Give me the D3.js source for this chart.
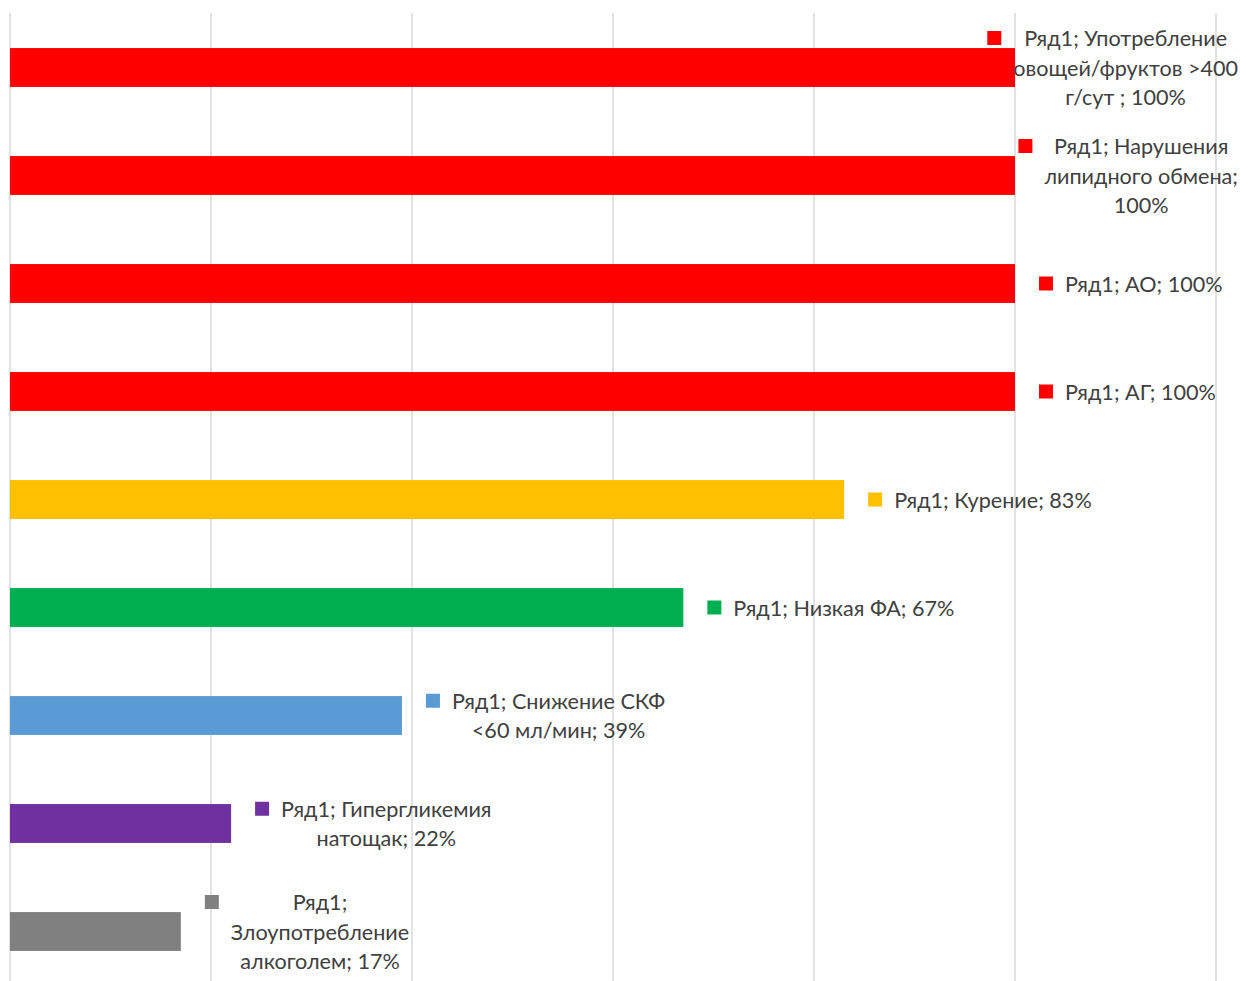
<!DOCTYPE html>
<html>
<head>
<meta charset="utf-8">
<script src="https://cdn.jsdelivr.net/npm/d3@7"></script>
<style>
  html, body { margin: 0; padding: 0; background: #fff; }
  svg { display: block; }
  .lbl { font-family: Lato, "Open Sans", sans-serif; font-size: 21.6px; fill: #404040; }
</style>
</head>
<body>
<svg id="chart" width="1240" height="981"></svg>
<script>
// data, top to bottom
var categories = [
  "Употребление овощей/фруктов >400 г/сут ",
  "Нарушения липидного обмена",
  "АО",
  "АГ",
  "Курение",
  "Низкая ФА",
  "Снижение СКФ <60 мл/мин",
  "Гипергликемия натощак",
  "Злоупотребление алкоголем"
];
var values = [1.00, 1.00, 1.00, 1.00, 0.83, 0.67, 0.39, 0.22, 0.17];
var colors = ["#ff0000", "#ff0000", "#ff0000", "#ff0000", "#ffc000", "#00b050", "#5b9bd5", "#7030a0", "#808080"];
var seriesName = "Ряд1";
var xTicks = [0, 0.2, 0.4, 0.6, 0.8, 1.0, 1.2];
// how the data labels wrap in the picture
var labelLines = [
  ["Ряд1; Употребление", "овощей/фруктов >400", "г/сут ; 100%"],
  ["Ряд1; Нарушения", "липидного обмена;", "100%"],
  ["Ряд1; АО; 100%"],
  ["Ряд1; АГ; 100%"],
  ["Ряд1; Курение; 83%"],
  ["Ряд1; Низкая ФА; 67%"],
  ["Ряд1; Снижение СКФ", "<60 мл/мин; 39%"],
  ["Ряд1; Гипергликемия", "натощак; 22%"],
  ["Ряд1;", "Злоупотребление", "алкоголем; 17%"]
];

var svg = d3.select("#chart");
var rightLimit = 1238;

var x = d3.scaleLinear().domain([0, 1.2]).range([10, 1216]);
var y = d3.scaleBand().domain(categories).range([13.5, 985.5])
  .paddingInner(0.64).paddingOuter(0.32);

// vertical gridlines
svg.append("g").selectAll("line")
  .data(xTicks)
  .enter().append("line")
  .attr("x1", function(d) { return x(d); })
  .attr("x2", function(d) { return x(d); })
  .attr("y1", 13)
  .attr("y2", 981)
  .attr("stroke", "#d9d9d9")
  .attr("stroke-width", 1.5);

// bars
svg.append("g").selectAll("rect")
  .data(categories)
  .enter().append("rect")
  .attr("x", x(0))
  .attr("y", function(d) { return y(d); })
  .attr("width", function(d, i) { return x(values[i]) - x(0); })
  .attr("height", y.bandwidth())
  .attr("fill", function(d, i) { return colors[i]; });

// data labels with legend key
var lineH = 29.5;
var labels = svg.append("g");
categories.forEach(function(c, i) {
  var lines = labelLines[i];
  var g = labels.append("g");
  var cy = y(c) + y.bandwidth() / 2;
  var top = cy - (lines.length - 1) * lineH / 2;

  var texts = g.selectAll("text")
    .data(lines)
    .enter().append("text")
    .attr("class", "lbl")
    .attr("text-anchor", "middle")
    .attr("dominant-baseline", "central")
    .attr("y", function(d, k) { return top + k * lineH; })
    .text(function(d) { return d; });

  var maxW = 0;
  texts.each(function() { maxW = Math.max(maxW, this.getComputedTextLength()); });

  var left = Math.min(x(values[i]) + 24, rightLimit - (26 + maxW));
  texts.attr("x", left + 26 + maxW / 2);

  g.append("rect")
    .attr("x", left)
    .attr("y", top - 7)
    .attr("width", 14)
    .attr("height", 14)
    .attr("fill", colors[i]);
});
</script>
</body>
</html>
